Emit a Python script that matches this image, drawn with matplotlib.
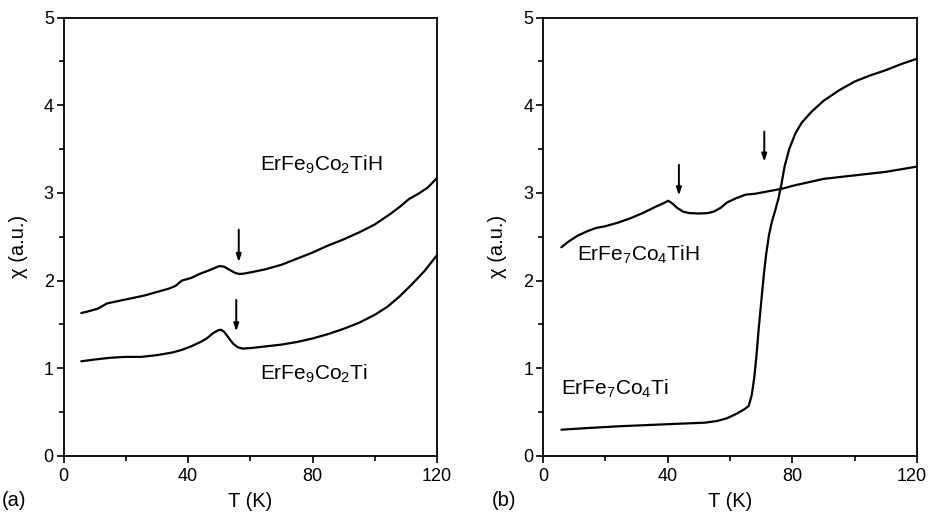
import matplotlib
matplotlib.use("Agg")
import matplotlib.pyplot as plt
from matplotlib.transforms import ScaledTranslation

plt.rcParams["font.family"] = ["Liberation Sans", "DejaVu Sans"]
plt.rcParams["mathtext.fontset"] = "custom"
plt.rcParams["mathtext.rm"] = "Liberation Sans"
plt.rcParams["mathtext.it"] = "Liberation Sans:italic"

# (a) ErFe9Co2Ti and its hydride
t_a_hyd = [5.7, 8, 11, 14, 18, 22, 26, 30, 34, 36, 38, 41, 44, 47, 50, 51.5, 53, 55,
           56.5, 58, 61, 65, 70, 75, 80, 85, 90, 95, 100, 105, 108, 111, 114, 117, 120]
chi_a_hyd = [1.63, 1.65, 1.68, 1.74, 1.77, 1.80, 1.83, 1.87, 1.91, 1.94, 2.0, 2.03, 2.08,
             2.12, 2.165, 2.16, 2.13, 2.09, 2.075, 2.08, 2.10, 2.13, 2.18, 2.25, 2.32,
             2.40, 2.47, 2.55, 2.64, 2.76, 2.84, 2.93, 2.99, 3.06, 3.17]
t_a_base = [5.7, 10, 15, 20, 25, 30, 35, 38, 41, 44, 46, 48, 49.5, 50.5, 51.5, 53, 54.5,
            56, 57.5, 60, 65, 70, 75, 80, 85, 90, 95, 100, 104, 108, 112, 116, 120]
chi_a_base = [1.08, 1.10, 1.12, 1.13, 1.13, 1.15, 1.18, 1.21, 1.25, 1.30, 1.34, 1.40, 1.43,
              1.44, 1.42, 1.35, 1.28, 1.24, 1.225, 1.23, 1.25, 1.27, 1.30, 1.34, 1.39,
              1.45, 1.52, 1.61, 1.70, 1.82, 1.96, 2.11, 2.29]

# (b) ErFe7Co4Ti and its hydride
t_b_hyd = [5.9, 8, 11, 14, 17, 20, 24, 28, 32, 36, 38.5, 40.2, 41.5, 43, 45, 47, 50, 53,
           55, 57, 59, 62, 65, 68, 71, 74, 77, 80, 85, 90, 95, 100, 105, 110, 115, 120]
chi_b_hyd = [2.38, 2.44, 2.51, 2.56, 2.60, 2.62, 2.66, 2.71, 2.77, 2.84, 2.88, 2.91, 2.88,
             2.83, 2.785, 2.77, 2.765, 2.77, 2.79, 2.83, 2.89, 2.94, 2.98, 2.99, 3.01,
             3.03, 3.05, 3.08, 3.12, 3.16, 3.18, 3.20, 3.22, 3.24, 3.27, 3.30]
t_b_base = [5.9, 15, 25, 35, 45, 52, 56, 59, 62, 64.5, 66, 67, 67.8, 68.5, 69.2, 70, 70.8,
            71.6, 72.5, 73.5, 74.5, 75.5, 76.5, 77.5, 79, 81, 83, 86, 90, 95, 100, 105,
            110, 115, 120]
chi_b_base = [0.30, 0.32, 0.34, 0.355, 0.37, 0.38, 0.40, 0.43, 0.48, 0.53, 0.57, 0.70, 0.90,
              1.15, 1.45, 1.75, 2.05, 2.30, 2.52, 2.68, 2.80, 2.93, 3.10, 3.30, 3.50, 3.68,
              3.80, 3.92, 4.05, 4.17, 4.27, 4.34, 4.40, 4.47, 4.53]

# transition markers: (T, tail chi, tip chi)
arrows_a = [(56.3, 2.58, 2.21), (55.5, 1.78, 1.42)]
arrows_b = [(43.6, 3.32, 2.97), (71.0, 3.70, 3.355)]

labels_a = [(r"ErFe$_9$Co$_2$TiH", 63, 3.32), (r"ErFe$_9$Co$_2$Ti", 63, 0.94)]
labels_b = [(r"ErFe$_7$Co$_4$TiH", 11, 2.29), (r"ErFe$_7$Co$_4$Ti", 5.9, 0.77)]

x_ticks = [0, 40, 80, 120]
y_ticks = [0, 1, 2, 3, 4, 5]

fig = plt.figure(figsize=(9.29, 5.12), dpi=100)
ax_a = fig.add_axes([0.0684, 0.1094, 0.4020, 0.8564])
ax_b = fig.add_axes([0.5845, 0.1094, 0.4026, 0.8564])

panels = [
    (ax_a, [(t_a_hyd, chi_a_hyd), (t_a_base, chi_a_base)], arrows_a, labels_a, "(a)", 0.002, -0.096),
    (ax_b, [(t_b_hyd, chi_b_hyd), (t_b_base, chi_b_base)], arrows_b, labels_b, "(b)", 0.529, -0.096),
]

for ax, curves, arrows, labels, tag, tag_x, ylab_x in panels:
    for t, chi in curves:
        ax.plot(t, chi, color="black", lw=1.6, solid_capstyle="round")
    for t, tail, tip in arrows:
        ax.annotate("", xy=(t, tip), xytext=(t, tail),
                    arrowprops=dict(arrowstyle="-|>,head_length=0.45,head_width=0.15",
                                    lw=1.4, color="black", shrinkA=0, shrinkB=0))
    for text, x, y in labels:
        ax.text(x, y, text, fontsize=15, ha="left", va="center")

    ax.set_xlim(0, 120)
    ax.set_ylim(0, 5)
    ax.set_xticks(x_ticks)
    ax.set_xticks([20, 60, 100], minor=True)
    ax.set_yticks(y_ticks)
    ax.set_yticks([0.5, 1.5, 2.5, 3.5, 4.5], minor=True)
    ax.tick_params(which="major", direction="out", length=5, width=1.2,
                   labelsize=13, top=False, right=False)
    ax.tick_params(axis="x", which="major", pad=4)
    ax.tick_params(axis="y", which="major", pad=2)
    ax.tick_params(which="minor", direction="out", length=3.5, width=1.2,
                   top=False, right=False)
    for sp in ax.spines.values():
        sp.set_linewidth(1.3)

    ax.set_xlabel("T (K)", fontsize=14.5)
    ax.xaxis.set_label_coords(0.5, -0.082)
    ax.set_ylabel("\u03c7 (a.u.)", fontsize=14.5)
    ax.yaxis.set_label_coords(ylab_x, 0.478)

    fig.text(tag_x, 0.023, tag, fontsize=14.5, ha="left", va="center")

# keep the last tick label of panel (b) inside the figure edge
last = ax_b.xaxis.get_major_ticks()[-1].label1
last.set_transform(last.get_transform() + ScaledTranslation(-0.05, 0, fig.dpi_scale_trans))

fig.savefig("out.png", dpi=100)
